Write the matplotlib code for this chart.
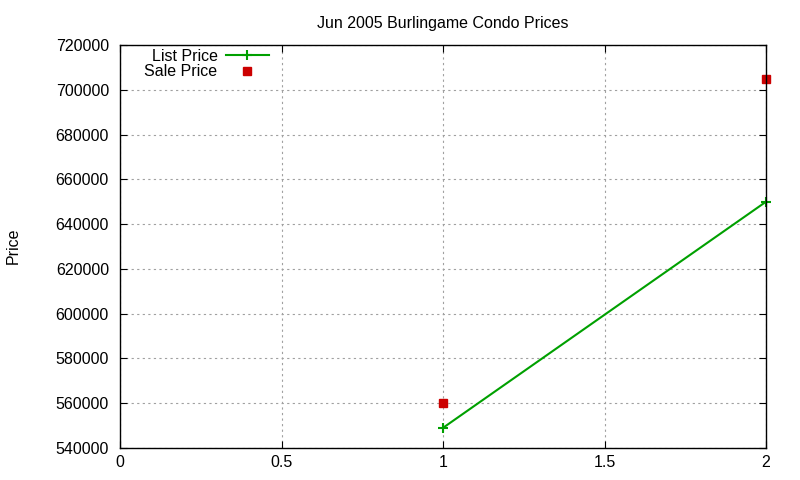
import matplotlib
matplotlib.use('Agg')
import matplotlib.pyplot as plt

plt.rcParams['font.family'] = ['Liberation Sans', 'DejaVu Sans']

# data
list_x = [1, 2]
list_price = [549000, 650000]
sale_x = [1, 2]
sale_price = [560000, 705000]

fig = plt.figure(figsize=(8, 4.8), dpi=100)
ax = fig.add_axes([0.15, 0.0667, 0.8075, 0.8395])

ax.plot(list_x, list_price, color='#00a000', marker='+', markersize=7,
        markeredgewidth=1.5, linewidth=1.5, label='List Price', clip_on=False)
ax.plot(sale_x, sale_price, color='#cc0000', marker='s', markersize=6,
        linestyle='none', label='Sale Price', clip_on=False)

ax.set_xlim(0, 2)
ax.set_ylim(540000, 720000)
ax.set_xticks([0, 0.5, 1, 1.5, 2])
ax.set_xticklabels(['0', '0.5', '1', '1.5', '2'])
ax.set_yticks(range(540000, 720001, 20000))
ax.ticklabel_format(axis='y', style='plain', useOffset=False)

ax.grid(True, color='#a0a0a0', linestyle=(0, (2, 3)), linewidth=0.8)
ax.tick_params(direction='in', top=True, right=True, labelsize=11.5, length=5)
ax.tick_params(axis='y', pad=8)
ax.tick_params(axis='x', pad=5)
for s in ax.spines.values():
    s.set_linewidth(1.0)

fig.text(0.016, 0.4875, 'Price', rotation=90, ha='center', va='center',
         fontsize=11.5)
ax.set_title('Jun 2005 Burlingame Condo Prices', fontsize=11.5, pad=12)

leg = ax.legend(loc='upper left', frameon=False, markerfirst=False,
                fontsize=11.5, handlelength=2.7, handletextpad=0.5,
                borderaxespad=0.2, labelspacing=0.05,
                bbox_to_anchor=(0.023, 1.015))
for t in leg.get_texts():
    t.set_ha('right')

fig.savefig('out.png', dpi=100)
